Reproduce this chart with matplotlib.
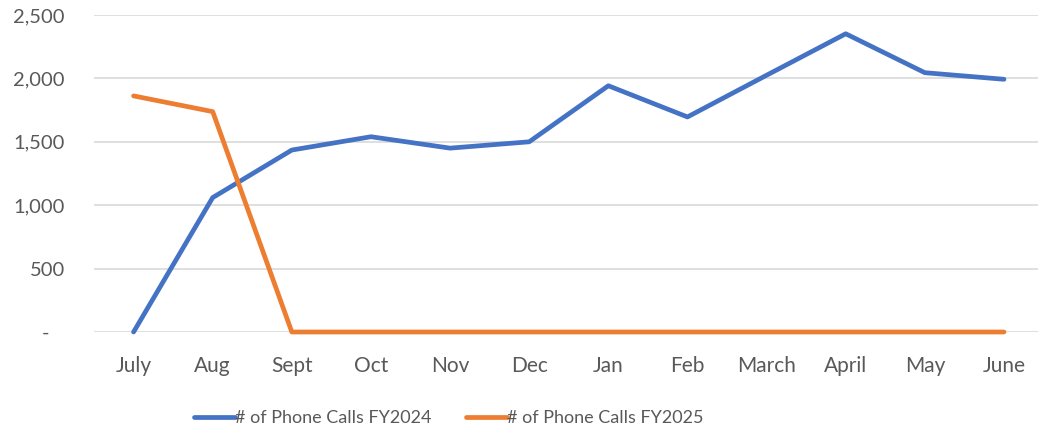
import matplotlib.pyplot as plt
from matplotlib.ticker import FuncFormatter

months = ["July", "Aug", "Sept", "Oct", "Nov", "Dec", "Jan", "Feb", "March", "April", "May", "June"]
calls_fy2024 = [0, 1060, 1435, 1540, 1450, 1500, 1942, 1696, 2025, 2352, 2045, 1993]
calls_fy2025 = [1862, 1738, 0, 0, 0, 0, 0, 0, 0, 0, 0, 0]
yticks = [0, 500, 1000, 1500, 2000, 2500]

plt.rcParams["font.family"] = ["Lato", "DejaVu Sans"]
text_color = "#595959"

fig = plt.figure(figsize=(10.38, 4.32), dpi=100)
ax = fig.add_axes([94 / 1038, 100 / 432, 944 / 1038, 317 / 432])

x = list(range(len(months)))
ax.plot(x, calls_fy2024, color="#4472C4", lw=3.4, solid_capstyle="round",
        solid_joinstyle="round", label="# of Phone Calls FY2024", zorder=3, clip_on=False)
ax.plot(x, calls_fy2025, color="#ED7D31", lw=3.4, solid_capstyle="round",
        solid_joinstyle="round", label="# of Phone Calls FY2025", zorder=3, clip_on=False)

ax.set_xlim(-0.5, 11.43)
ax.set_ylim(0, 2500)
ax.set_xticks(x)
ax.set_xticklabels(months)
ax.set_yticks(yticks)
ax.yaxis.set_major_formatter(FuncFormatter(lambda v, p: "-   " if v == 0 else f"{int(v):,}"))

ax.grid(axis="y", color="#D9D9D9", lw=1.2)
ax.set_axisbelow(True)
for s in ax.spines.values():
    s.set_visible(False)
ax.tick_params(axis="both", length=0, colors=text_color, labelsize=14.5)
ax.tick_params(axis="x", labelsize=15, pad=17)
ax.tick_params(axis="y", pad=21)

leg = ax.legend(loc="center", bbox_to_anchor=(355 / 944, -0.272), ncol=2, frameon=False,
                fontsize=13, handlelength=2.27, handletextpad=0.0, columnspacing=1.9,
                labelcolor=text_color)

fig.savefig("out.png", dpi=100)
